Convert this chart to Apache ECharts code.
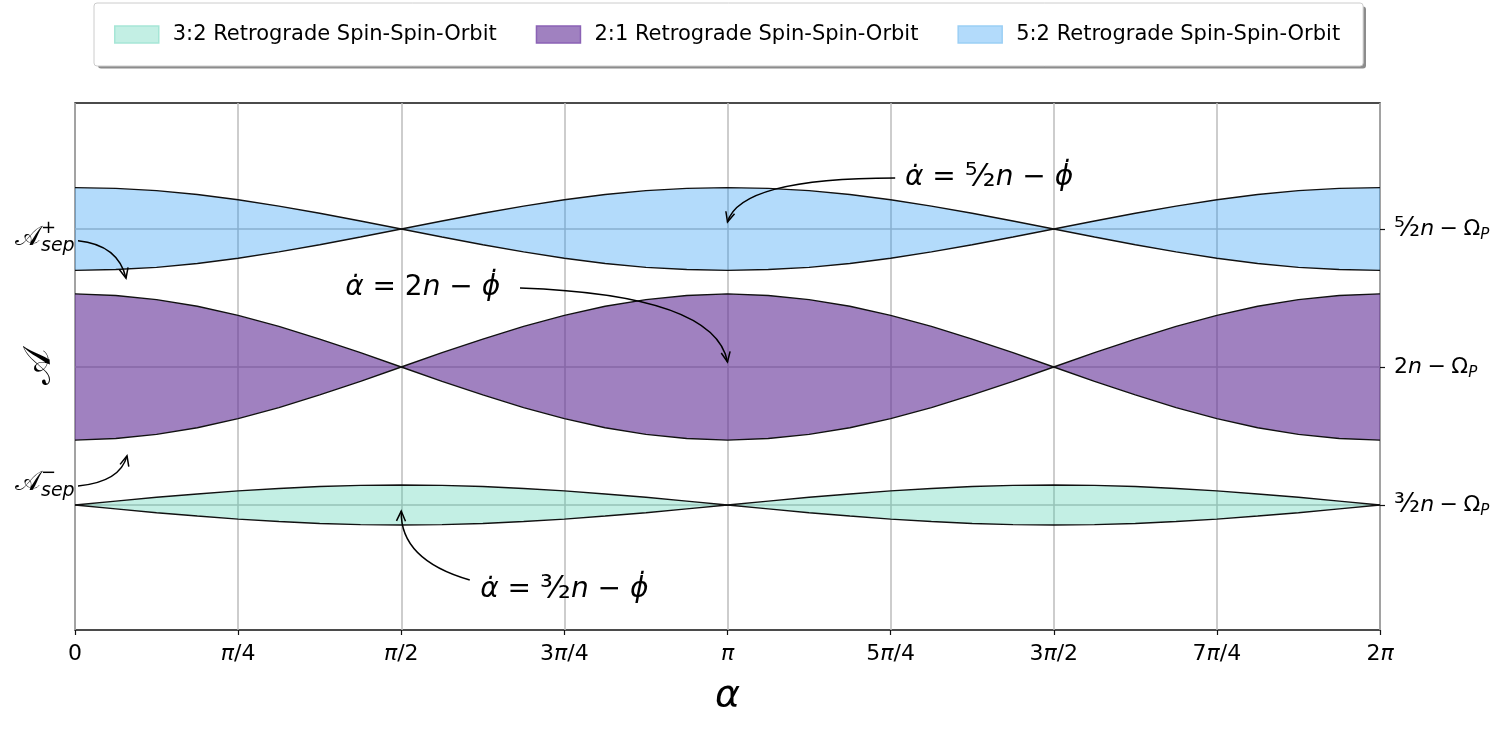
<!DOCTYPE html>
<html><head><meta charset="utf-8">
<script src="https://cdn.jsdelivr.net/npm/echarts@6/dist/echarts.min.js"></script>
<style>html,body{margin:0;padding:0;background:#fff}#c{width:1500px;height:750px}</style>
</head><body><div id="c"></div>
<script>
// alpha sample positions in units of pi
const alphaPi = [0,0.0625,0.125,0.1875,0.25,0.3125,0.375,0.4375,0.5,0.5625,0.625,0.6875,0.75,0.8125,0.875,0.9375,1,
  1.0625,1.125,1.1875,1.25,1.3125,1.375,1.4375,1.5,1.5625,1.625,1.6875,1.75,1.8125,1.875,1.9375,2];
const xTickLabels = ['0','{i|π}/4','{i|π}/2','3{i|π}/4','{i|π}','5{i|π}/4','3{i|π}/2','7{i|π}/4','2{i|π}'];
const bandNames = ['3:2 Retrograde Spin-Spin-Orbit','2:1 Retrograde Spin-Spin-Orbit','5:2 Retrograde Spin-Spin-Orbit'];
const bandCenters = [1.5, 2.0, 2.5];
const bandCenterLabels = ['{f|³⁄₂}{i|n}\u2005−\u2005Ω{s|P}', '2{i|n}\u2005−\u2005Ω{s|P}', '{f|⁵⁄₂}{i|n}\u2005−\u2005Ω{s|P}'];
// half widths of each separatrix band
const halfWidth32 = [0,0.014,0.028,0.040,0.051,0.060,0.067,0.071,0.0725,0.071,0.067,0.060,0.051,0.040,0.028,0.014,0,
  0.014,0.028,0.040,0.051,0.060,0.067,0.071,0.0725,0.071,0.067,0.060,0.051,0.040,0.028,0.014,0];
const halfWidth21 = [0.265,0.259,0.244,0.220,0.187,0.147,0.101,0.052,0,0.052,0.101,0.147,0.187,0.220,0.244,0.259,0.265,
  0.259,0.244,0.220,0.187,0.147,0.101,0.052,0,0.052,0.101,0.147,0.187,0.220,0.244,0.259,0.265];
const halfWidth52 = [0.150,0.147,0.139,0.125,0.106,0.083,0.057,0.029,0,0.029,0.057,0.083,0.106,0.125,0.139,0.147,0.150,
  0.147,0.139,0.125,0.106,0.083,0.057,0.029,0,0.029,0.057,0.083,0.106,0.125,0.139,0.147,0.150];
const halfWidths = [halfWidth32, halfWidth21, halfWidth52];
const yRange = [1.0471, 2.9565];

const fills = ['rgba(72,207,173,0.33)','rgba(102,51,153,0.62)','rgba(33,150,243,0.34)'];
const edges = ['#a6e6d6','#8b62b5','#9bcff5'];
const FONT = 'DejaVu Sans';

const chart = echarts.init(document.getElementById('c'), null, {renderer:'canvas'});

const series = [];
bandNames.forEach((name, b) => {
  const c = bandCenters[b], hw = halfWidths[b];
  const lower = alphaPi.map((a,i)=>[a, c - hw[i]]);
  const upper = alphaPi.map((a,i)=>[a, c + hw[i]]);
  series.push({
    type:'custom', name: name, silent:true, z:2,
    xAxisIndex:0, yAxisIndex:1,
    data: alphaPi.map((a,i)=>[a, c - hw[i], c + hw[i]]),
    encode:{x:0, y:[1,2]},
    itemStyle:{color: fills[b]},
    renderItem:(params, api)=>{
      if (params.dataIndex !== 0) return null;
      const pts = upper.map(p=>api.coord(p)).concat(lower.slice().reverse().map(p=>api.coord(p)));
      return {type:'polygon', shape:{points:pts}, style:{fill:fills[b], stroke:null}};
    }
  });
  series.push({
    type:'line', name: name + ' (lower edge)', symbol:'none', silent:true, xAxisIndex:0, yAxisIndex:1,
    data: lower, lineStyle:{color:'#111', width:1.4}, z:3
  });
  series.push({
    type:'line', name: name + ' (upper edge)', symbol:'none', silent:true, xAxisIndex:0, yAxisIndex:1,
    data: upper, lineStyle:{color:'#111', width:1.4}, z:3
  });
});

const rightRich = {
  f:{fontFamily:FONT, fontSize:27, color:'#000', lineHeight:28},
  i:{fontFamily:FONT, fontSize:22, fontStyle:'italic', color:'#000', lineHeight:28},
  s:{fontFamily:FONT, fontSize:15, fontStyle:'italic', color:'#000', verticalAlign:'bottom', lineHeight:15}
};

chart.setOption({
  animation:false,
  legend:{
    left:94, top:3, orient:'horizontal', selectedMode:false,
    data: bandNames.map((n,i)=>({name:n, icon:'rect', itemStyle:{color:fills[i], borderColor:edges[i], borderWidth:1.5}})),
    itemWidth:44, itemHeight:17, itemGap:39,
    textStyle:{fontSize:21, fontFamily:FONT, color:'#000', padding:[0,0,0,9]},
    padding:[21,23,21,20],
    backgroundColor:'#fff', borderColor:'#cccccc', borderWidth:1, borderRadius:3
  },
  grid:{left:75, right:120, top:103, bottom:120, show:true, borderColor:'#111', borderWidth:1.4, backgroundColor:'transparent'},
  xAxis:{
    type:'value', min:0, max:2, interval:0.25,
    name:'α', nameLocation:'middle', nameGap:47,
    nameTextStyle:{fontFamily:FONT, fontSize:38, fontStyle:'italic', color:'#000'},
    axisLine:{show:false},
    axisTick:{show:true, inside:false, length:5, lineStyle:{color:'#111', width:1.2}},
    axisLabel:{fontFamily:FONT, fontSize:22, color:'#000', margin:13,
      formatter:v=>xTickLabels[Math.round(v/0.25)],
      rich:{i:{fontFamily:FONT, fontSize:22, fontStyle:'italic', color:'#000'}}},
    splitLine:{show:true, lineStyle:{color:'#bdbdbd', width:1.5}}
  },
  yAxis:[{
    type:'value', position:'left', min:yRange[0], max:yRange[1],
    name:'𝒜', nameLocation:'middle', nameGap:16, nameRotate:90,
    nameTextStyle:{fontFamily:FONT, fontSize:38, color:'#000'},
    axisLine:{show:false}, axisTick:{show:false}, axisLabel:{show:false}, splitLine:{show:false}
  },{
    type:'value', position:'right', min:yRange[0], max:yRange[1],
    axisLine:{show:false},
    axisTick:{show:true, inside:false, length:5, customValues:bandCenters, lineStyle:{color:'#111', width:1.2}},
    axisLabel:{customValues:bandCenters, margin:14, color:'#000', fontFamily:FONT, fontSize:22,
      formatter:v=>{const k=bandCenters.findIndex(c=>Math.abs(c-v)<1e-6); return k>=0?bandCenterLabels[k]:'';},
      rich:rightRich},
    splitLine:{show:true, lineStyle:{color:'#bdbdbd', width:1.5}}
  }],
  series: series
});

// annotations in data coordinates (alpha in units of pi, A)
const annotations = [
  {text:'{i|α̇} = {f|⁵⁄₂}{i|n} − {i|ϕ̇}', textAt:[1.272,2.685], from:[1.257,2.685], ctrl:[1.019,2.685], to:[1.0,2.525]},
  {text:'{i|α̇} = 2{i|n} − {i|ϕ̇}', textAt:[0.414,2.286], from:[0.682,2.286], ctrl:[0.981,2.261], to:[1.0,2.018]},
  {text:'{i|α̇} = {f|³⁄₂}{i|n} − {i|ϕ̇}', textAt:[0.621,1.192], from:[0.605,1.228], ctrl:[0.498,1.301], to:[0.5,1.478]}
];
const sepArrows = [
  {sup:'+', at:2.46, from:[0.0046,2.457], ctrl:[0.0659,2.442], to:[0.0782,2.322]},
  {sup:'−', at:1.572, from:[0.0046,1.569], ctrl:[0.069,1.583], to:[0.0797,1.678]}
];
const annRich = {
  i:{fontFamily:FONT, fontSize:28, fontStyle:'italic', color:'#000'},
  f:{fontFamily:FONT, fontSize:32, color:'#000'}
};
function px(p){ return chart.convertToPixel({xAxisIndex:0, yAxisIndex:1}, p); }
function arrow(from, ctrl, to){
  const a = px(from), c = px(ctrl), b = px(to);
  let dx = b[0]-c[0], dy = b[1]-c[1]; const L = Math.hypot(dx,dy); dx/=L; dy/=L;
  const hl = 10, hw = 4.5;
  const bx = b[0]-dx*hl, by = b[1]-dy*hl;
  return [
    {type:'bezierCurve', silent:true, z:10, shape:{x1:a[0],y1:a[1],cpx1:c[0],cpy1:c[1],x2:b[0],y2:b[1]},
     style:{stroke:'#000', lineWidth:1.5, fill:null}},
    {type:'polyline', silent:true, z:10, shape:{points:[[bx-dy*hw, by+dx*hw],[b[0],b[1]],[bx+dy*hw, by-dx*hw]]},
     style:{stroke:'#000', lineWidth:1.5, fill:null}}
  ];
}
const graphic = [];
// legend drop shadow (matplotlib-style), placed behind the legend box
graphic.push({type:'rect', silent:true, z:0, shape:{x:98, y:6.5, width:1268, height:62, r:3}, style:{fill:'#8c8c8c'}});
annotations.forEach(an=>{
  const t = px(an.textAt);
  graphic.push({type:'text', silent:true, z:10, x:t[0], y:t[1],
    style:{text:an.text, rich:annRich, fontFamily:FONT, fontSize:28, fill:'#000', align:'left', verticalAlign:'middle'}});
  graphic.push(...arrow(an.from, an.ctrl, an.to));
});
sepArrows.forEach(s=>{
  const p = px([0, s.at]);
  graphic.push({type:'text', silent:true, z:10, x:p[0]-34, y:p[1]-2,
    style:{text:'𝒜', fontFamily:FONT, fontSize:27, fill:'#000', align:'right', verticalAlign:'middle'}});
  graphic.push({type:'text', silent:true, z:10, x:p[0]-34, y:p[1]-12,
    style:{text:s.sup, fontFamily:FONT, fontSize:18, fill:'#000', align:'left', verticalAlign:'middle'}});
  graphic.push({type:'text', silent:true, z:10, x:p[0]-34, y:p[1]+6,
    style:{text:'sep', fontFamily:FONT, fontSize:19, fontStyle:'italic', fill:'#000', align:'left', verticalAlign:'middle'}});
  graphic.push(...arrow(s.from, s.ctrl, s.to));
});
chart.setOption({graphic: graphic});
</script>
</body></html>
